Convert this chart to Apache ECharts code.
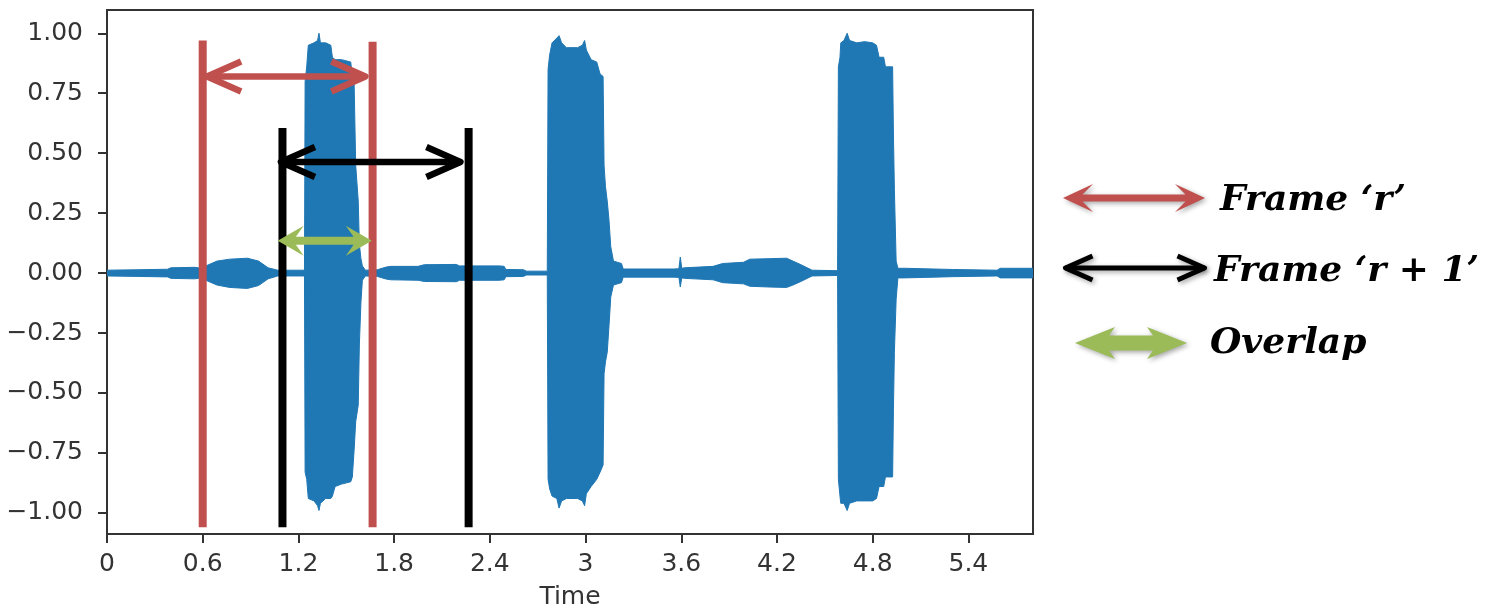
<!DOCTYPE html>
<html>
<head>
<meta charset="utf-8">
<script src="https://cdn.jsdelivr.net/npm/echarts@6/dist/echarts.min.js"></script>
<style>
  html, body { margin: 0; padding: 0; background: #fff; }
  #chart { width: 1486px; height: 615px; }
</style>
</head>
<body>
<div id="chart"></div>
<script>
// tick labels
const xTicks = [0, 0.6, 1.2, 1.8, 2.4, 3, 3.6, 4.2, 4.8, 5.4]
const yTicks = [-1, -0.75, -0.5, -0.25, 0, 0.25, 0.5, 0.75, 1]

// waveform envelope (time in s, upper / lower amplitude)
const waveTime = [
  0.00, 0.20, 0.38, 0.40, 0.55, 0.59, 0.62, 0.69, 0.77, 0.88, 0.95, 1.01, 1.07, 1.238,
  1.242, 1.252, 1.262, 1.298, 1.320, 1.329, 1.338, 1.371, 1.403, 1.413, 1.430, 1.470, 1.528, 1.538,
  1.549, 1.559, 1.575, 1.582, 1.592, 1.601, 1.62,
  1.695, 1.75, 1.78, 1.95, 1.99, 2.19, 2.21, 2.46, 2.49, 2.50, 2.61, 2.63, 2.76,
  2.765, 2.775, 2.79, 2.82, 2.834, 2.85, 2.88, 2.95, 2.98, 2.994, 3.005, 3.035, 3.07, 3.091,
  3.11, 3.116, 3.125, 3.136, 3.147, 3.158, 3.175, 3.20, 3.225, 3.236,
  3.55, 3.585, 3.594, 3.603, 3.62, 3.80, 3.86, 3.99, 4.03, 4.15, 4.26, 4.30, 4.35, 4.42, 4.58,
  4.585, 4.595, 4.60, 4.62, 4.64, 4.655, 4.70, 4.75, 4.80, 4.824, 4.84, 4.869, 4.88, 4.925,
  4.93, 4.936, 4.947, 4.958,
  5.00, 5.30, 5.58, 5.60, 5.805
]
const waveUpper = [
  0.012, 0.014, 0.016, 0.022, 0.024, 0.020, 0.030, 0.050, 0.058, 0.062, 0.050, 0.022, 0.012, 0.012,
  0.80, 0.86, 0.95, 0.96, 0.97, 1.00, 0.96, 0.96, 0.95, 0.90, 0.89, 0.89, 0.88, 0.82,
  0.80, 0.45, 0.30, 0.12, 0.06, 0.03, 0.012,
  0.014, 0.025, 0.028, 0.028, 0.035, 0.036, 0.030, 0.030, 0.028, 0.015, 0.014, 0.008, 0.008,
  0.85, 0.91, 0.96, 0.98, 0.99, 0.96, 0.94, 0.94, 0.95, 0.97, 0.93, 0.89, 0.88, 0.83,
  0.82, 0.45, 0.36, 0.30, 0.22, 0.11, 0.05, 0.045, 0.04, 0.017,
  0.017, 0.018, 0.067, 0.020, 0.022, 0.028, 0.040, 0.045, 0.058, 0.060, 0.062, 0.050, 0.035, 0.012, 0.010,
  0.86, 0.90, 0.96, 0.97, 1.00, 0.97, 0.96, 0.965, 0.96, 0.95, 0.90, 0.90, 0.86, 0.86,
  0.58, 0.35, 0.05, 0.02,
  0.020, 0.015, 0.012, 0.020, 0.020
]
const waveLower = [
  -0.012, -0.014, -0.016, -0.022, -0.024, -0.020, -0.030, -0.050, -0.060, -0.064, -0.052, -0.024, -0.012, -0.012,
  -0.83, -0.86, -0.94, -0.95, -0.97, -0.99, -0.96, -0.94, -0.94, -0.93, -0.89, -0.88, -0.87, -0.85,
  -0.74, -0.62, -0.55, -0.30, -0.12, -0.03, -0.012,
  -0.014, -0.025, -0.028, -0.030, -0.035, -0.036, -0.030, -0.030, -0.028, -0.015, -0.014, -0.008, -0.008,
  -0.86, -0.90, -0.93, -0.94, -0.98, -0.95, -0.94, -0.94, -0.95, -0.97, -0.92, -0.89, -0.86, -0.83,
  -0.80, -0.42, -0.37, -0.33, -0.22, -0.10, -0.05, -0.045, -0.04, -0.017,
  -0.017, -0.018, -0.058, -0.020, -0.022, -0.028, -0.040, -0.045, -0.055, -0.058, -0.060, -0.050, -0.035, -0.012, -0.010,
  -0.86, -0.93, -0.96, -0.96, -0.99, -0.96, -0.95, -0.95, -0.95, -0.94, -0.89, -0.89, -0.85, -0.85,
  -0.57, -0.33, -0.11, -0.02,
  -0.020, -0.015, -0.012, -0.020, -0.020
]

// frame boundaries: [time, top of line]
const frameRLines = [[0.6, 0.97], [1.665, 0.965]]
const frameR1Lines = [[1.1, 0.605], [2.267, 0.605]]
const lineBottom = -1.06
// arrows: [from, to, y]
const frameRArrow = [[0.607, 1.64, 0.82]]
const frameR1Arrow = [[1.07, 2.236, 0.463]]
const overlapArrow = [[1.07, 1.66, 0.135]]

const legendNames = ['Frame \u2018r\u2019', 'Frame \u2018r + 1\u2019', 'Overlap']

const RED = '#C0504D'
const GREEN = '#9BBB59'
const BLUE = '#1f77b4'
const AXIS = '#333333'

const upperData = waveTime.map((t, i) => [t, waveUpper[i]])
const lowerData = waveTime.map((t, i) => [t, waveLower[i]])

// swept back double arrow as a polygon (pixel coords)
function fatArrow(x1, x2, y, sh, hh, hl, k) {
  return [
    [x1, y], [x1 + hl, y - hh], [x1 + hl * k, y - sh], [x2 - hl * k, y - sh],
    [x2 - hl, y - hh], [x2, y], [x2 - hl, y + hh], [x2 - hl * k, y + sh],
    [x1 + hl * k, y + sh], [x1 + hl, y + hh]
  ]
}

// line arrow with open chevron heads
function lineArrow(x1, x2, y, w, hl, hh, color, extra) {
  const st = Object.assign({ stroke: color, lineWidth: w, fill: null, lineJoin: 'round', lineCap: 'butt' }, extra || {})
  const a = x1 + w / 2, b = x2 - w / 2
  return [
    { type: 'line', shape: { x1: a, y1: y, x2: b, y2: y }, style: st },
    { type: 'polyline', shape: { points: [[a + hl, y - hh], [a, y], [a + hl, y + hh]] }, style: st },
    { type: 'polyline', shape: { points: [[b - hl, y - hh], [b, y], [b - hl, y + hh]] }, style: st }
  ]
}

function vLines(color) {
  return function (params, api) {
    const top = api.coord([api.value(0), api.value(1)])
    const bot = api.coord([api.value(0), lineBottom])
    return {
      type: 'line',
      shape: { x1: top[0], y1: top[1], x2: bot[0], y2: bot[1] },
      style: { stroke: color, lineWidth: 8 }
    }
  }
}

function chevronArrows(color) {
  return function (params, api) {
    const a = api.coord([api.value(0), api.value(2)])
    const b = api.coord([api.value(1), api.value(2)])
    return { type: 'group', children: lineArrow(a[0], b[0], a[1], 6.5, 34, 15, color) }
  }
}

function greenArrow(params, api) {
  const a = api.coord([api.value(0), api.value(2)])
  const b = api.coord([api.value(1), api.value(2)])
  return {
    type: 'polygon',
    shape: { points: fatArrow(a[0], b[0], a[1], 4, 15, 26, 0.7) },
    style: { fill: GREEN }
  }
}

const shadow = { shadowBlur: 5, shadowColor: 'rgba(0,0,0,0.35)', shadowOffsetX: 2, shadowOffsetY: 2 }
const legendFont = 'italic bold 36px "DejaVu Serif"'

const chart = echarts.init(document.getElementById('chart'))

chart.setOption({
  animation: false,
  backgroundColor: '#fff',
  grid: { left: 107, right: 453, top: 10, bottom: 81, show: true, borderColor: AXIS, borderWidth: 2, outerBoundsMode: 'none' },
  xAxis: {
    type: 'value',
    min: 0,
    max: 5.805,
    name: 'Time',
    nameLocation: 'middle',
    nameGap: 51,
    nameTextStyle: { fontFamily: 'DejaVu Sans', fontSize: 25, color: AXIS },
    axisLine: { onZero: false, lineStyle: { color: AXIS, width: 2 } },
    axisTick: { inside: false, length: 9, customValues: xTicks, lineStyle: { color: AXIS, width: 2 } },
    axisLabel: {
      customValues: xTicks,
      margin: 18,
      fontFamily: 'DejaVu Sans',
      fontSize: 25,
      color: AXIS,
      formatter: v => String(v)
    },
    splitLine: { show: false }
  },
  yAxis: {
    type: 'value',
    min: -1.088,
    max: 1.097,
    axisLine: { show: true, onZero: false, lineStyle: { color: AXIS, width: 2 } },
    axisTick: { show: true, inside: false, length: 9, customValues: yTicks, lineStyle: { color: AXIS, width: 2 } },
    axisLabel: {
      customValues: yTicks,
      margin: 24,
      fontFamily: 'DejaVu Sans',
      fontSize: 25,
      color: AXIS,
      formatter: v => v.toFixed(2).replace('-', '\u2212')
    },
    splitLine: { show: false }
  },
  series: [
    {
      type: 'line', data: upperData, showSymbol: false, silent: true, z: 1,
      lineStyle: { color: BLUE, width: 1 }, areaStyle: { color: BLUE, opacity: 1 }
    },
    {
      type: 'line', data: lowerData, showSymbol: false, silent: true, z: 1,
      lineStyle: { color: BLUE, width: 1 }, areaStyle: { color: BLUE, opacity: 1 }
    },
    { type: 'custom', data: frameRLines, renderItem: vLines(RED), z: 3, silent: true },
    { type: 'custom', data: frameR1Lines, renderItem: vLines('#000'), z: 3, silent: true },
    { type: 'custom', data: frameRArrow, renderItem: chevronArrows(RED), z: 4, silent: true },
    { type: 'custom', data: frameR1Arrow, renderItem: chevronArrows('#000'), z: 4, silent: true },
    { type: 'custom', data: overlapArrow, renderItem: greenArrow, z: 5, silent: true }
  ],
  graphic: [
    // legend drawn beside the plot
    {
      type: 'polygon', silent: true,
      shape: { points: fatArrow(1063, 1205, 198, 3.5, 14, 30, 0.65) },
      style: Object.assign({ fill: RED }, shadow)
    },
    {
      type: 'group', silent: true,
      children: lineArrow(1063, 1207, 268, 5, 27, 12, '#000', shadow)
    },
    {
      type: 'polygon', silent: true,
      shape: { points: fatArrow(1075, 1187, 343, 7.5, 16, 40, 0.85) },
      style: Object.assign({ fill: GREEN }, shadow)
    },
    {
      type: 'text', left: 1220, top: 183, silent: true,
      style: { text: legendNames[0], font: legendFont, fill: '#000' }
    },
    {
      type: 'text', left: 1214, top: 254, silent: true,
      style: { text: legendNames[1], font: legendFont, fill: '#000' }
    },
    {
      type: 'text', left: 1210, top: 326, silent: true,
      style: { text: legendNames[2], font: legendFont, fill: '#000' }
    }
  ]
})

window.addEventListener('resize', function () {
  chart.resize()
})
</script>
</body>
</html>
